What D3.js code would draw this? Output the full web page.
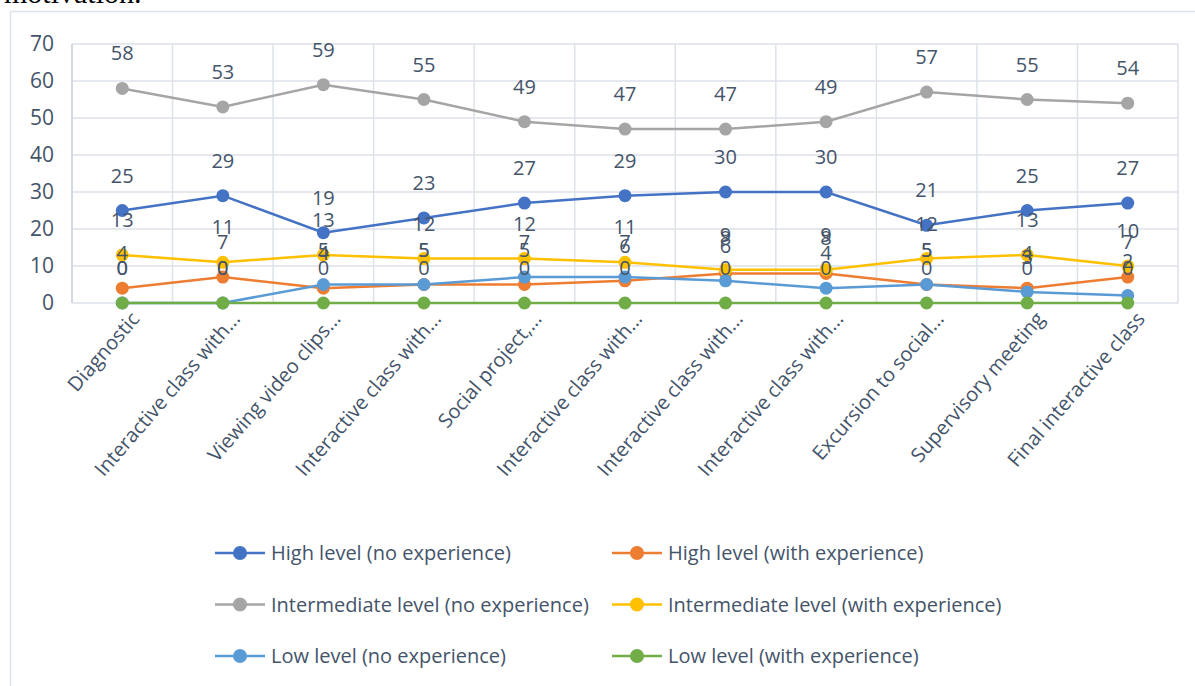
<html>
<head>
  <title>Motivation levels line chart</title>
  <script src="https://d3js.org/d3.v7.min.js"></script>
  <style>
    body { margin: 0; background: #fff; }
    svg text { font-family: "Open Sans", sans-serif; fill: #44546a; }
  </style>
</head>
<body>
<div class="chart"></div>
<script>
var categories = ["Diagnostic", "Interactive class with...", "Viewing video clips...",
  "Interactive class with...", "Social project,...", "Interactive class with...",
  "Interactive class with...", "Interactive class with...", "Excursion to social...",
  "Supervisory meeting", "Final interactive class"];

var seriesNames = ["High level (no experience)", "High level (with experience)",
  "Intermediate level (no experience)", "Intermediate level (with experience)",
  "Low level (no experience)", "Low level (with experience)"];

var seriesColors = ["#4472c4", "#ed7d31", "#a5a5a5", "#ffc000", "#5b9bd5", "#70ad47"];

var highNoExp   = [25, 29, 19, 23, 27, 29, 30, 30, 21, 25, 27];
var highWithExp = [4, 7, 4, 5, 5, 6, 8, 8, 5, 4, 7];
var midNoExp    = [58, 53, 59, 55, 49, 47, 47, 49, 57, 55, 54];
var midWithExp  = [13, 11, 13, 12, 12, 11, 9, 9, 12, 13, 10];
var lowNoExp    = [0, 0, 5, 5, 7, 7, 6, 4, 5, 3, 2];
var lowWithExp  = [0, 0, 0, 0, 0, 0, 0, 0, 0, 0, 0];

var yTicks = [0, 10, 20, 30, 40, 50, 60, 70];

var allSeries = [highNoExp, highWithExp, midNoExp, midWithExp, lowNoExp, lowWithExp];

var width = 1195,
    height = 686;

var svg = d3.select(".chart")
  .append("svg")
  .attr("width", width)
  .attr("height", height);

// cut-off line of text above the figure
svg.append("text")
  .attr("x", 4)
  .attr("y", 3)
  .style("font-family", "'Liberation Serif', serif")
  .style("font-size", "30px")
  .style("fill", "#000")
  .text("motivation.");

// outer chart frame
svg.append("rect")
  .attr("x", 10.5).attr("y", 11.5)
  .attr("width", width + 20).attr("height", height + 20)
  .attr("fill", "none")
  .attr("stroke", "#dde2ea")
  .attr("stroke-width", 1.5);

var plot = { left: 72, right: 1178, top: 44, bottom: 303 };

var x = d3.scaleBand()
  .domain(d3.range(categories.length))
  .range([plot.left, plot.right]);

var y = d3.scaleLinear()
  .domain([0, 70])
  .range([plot.bottom, plot.top]);

var cx = function (i) { return x(i) + x.bandwidth() / 2; };

// horizontal gridlines
svg.append("g")
  .selectAll("line")
  .data(yTicks)
  .enter()
  .append("line")
  .attr("x1", plot.left).attr("x2", plot.right)
  .attr("y1", function (d) { return y(d); })
  .attr("y2", function (d) { return y(d); })
  .attr("stroke", "#dde2ea")
  .attr("stroke-width", 1.5);

// vertical gridlines at category boundaries
svg.append("g")
  .selectAll("line")
  .data(d3.range(categories.length + 1))
  .enter()
  .append("line")
  .attr("x1", function (i) { return plot.left + i * x.step(); })
  .attr("x2", function (i) { return plot.left + i * x.step(); })
  .attr("y1", plot.top).attr("y2", plot.bottom)
  .attr("stroke", "#dde2ea")
  .attr("stroke-width", 1.5);

// left axis line
svg.append("line")
  .attr("x1", plot.left).attr("x2", plot.left)
  .attr("y1", plot.top).attr("y2", plot.bottom)
  .attr("stroke", "#cdd3dc")
  .attr("stroke-width", 1.5);

// y tick labels
svg.append("g")
  .selectAll("text")
  .data(yTicks)
  .enter()
  .append("text")
  .attr("x", 54)
  .attr("y", function (d) { return y(d); })
  .attr("dy", "0.35em")
  .attr("text-anchor", "end")
  .style("font-size", "21px")
  .text(function (d) { return d; });

// x tick labels
svg.append("g")
  .selectAll("text")
  .data(categories)
  .enter()
  .append("text")
  .attr("transform", function (d, i) {
    return "translate(" + (cx(i) + 13) + "," + 315 + ") rotate(-49)";
  })
  .attr("text-anchor", "end")
  .attr("dy", "0.35em")
  .style("font-size", "20px")
  .text(function (d) { return d; });

var line = d3.line()
  .x(function (d, i) { return cx(i); })
  .y(function (d) { return y(d); });

allSeries.forEach(function (values, s) {
  var g = svg.append("g");
  g.append("path")
    .datum(values)
    .attr("fill", "none")
    .attr("stroke", seriesColors[s])
    .attr("stroke-width", 2.5)
    .attr("d", line);
  g.selectAll("circle")
    .data(values)
    .enter()
    .append("circle")
    .attr("cx", function (d, i) { return cx(i); })
    .attr("cy", function (d) { return y(d); })
    .attr("r", 6.5)
    .attr("fill", seriesColors[s]);
});

// data labels above points
allSeries.forEach(function (values, s) {
  svg.append("g")
    .selectAll("text")
    .data(values)
    .enter()
    .append("text")
    .attr("x", function (d, i) { return cx(i); })
    .attr("y", function (d) { return y(d) - 28; })
    .attr("text-anchor", "middle")
    .style("font-size", "20px")
    .text(function (d) { return d; });
});

// legend
var legend = svg.append("g")
  .selectAll("g")
  .data(seriesNames)
  .enter()
  .append("g")
  .attr("transform", function (d, i) {
    return "translate(" + (215 + (i % 2) * 397) + "," + (553 + Math.floor(i / 2) * 51.5) + ")";
  });

legend.append("line")
  .attr("x1", 0).attr("x2", 50)
  .attr("y1", 0).attr("y2", 0)
  .attr("stroke", function (d, i) { return seriesColors[i]; })
  .attr("stroke-width", 2.5);

legend.append("circle")
  .attr("cx", 25).attr("cy", 0)
  .attr("r", 7)
  .attr("fill", function (d, i) { return seriesColors[i]; });

legend.append("text")
  .attr("x", 56)
  .attr("dy", "0.35em")
  .style("font-size", "20px")
  .text(function (d) { return d; });
</script>
</body>
</html>
